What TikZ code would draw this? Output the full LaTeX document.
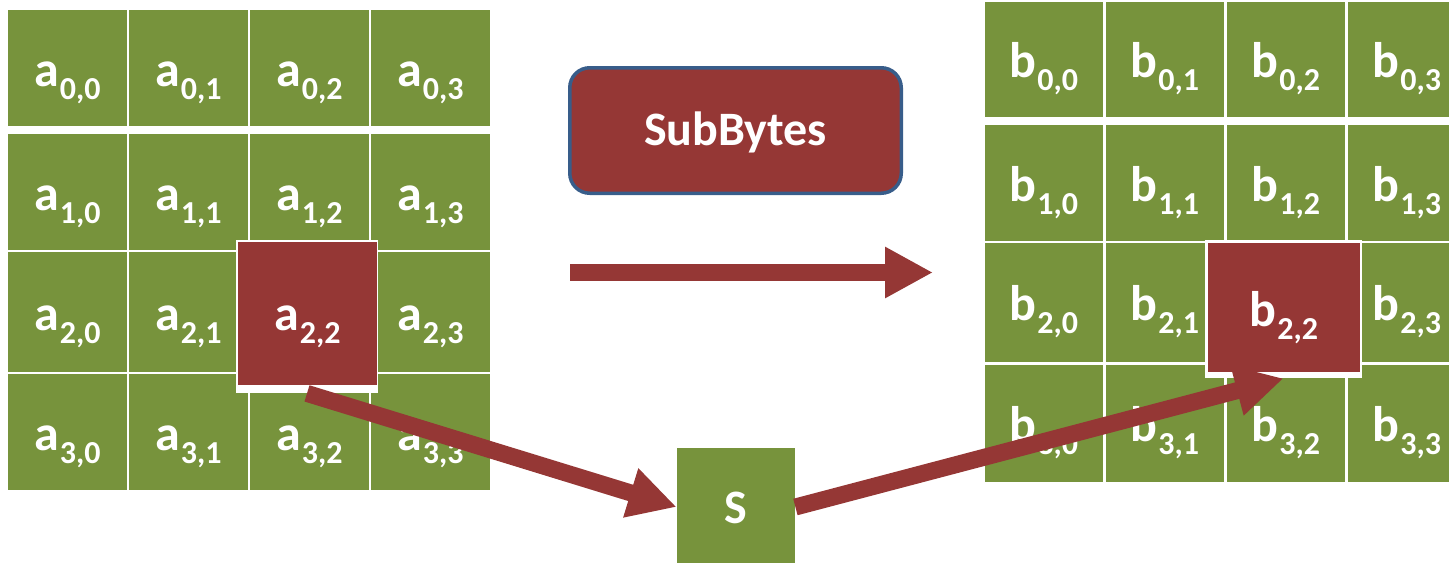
\documentclass[tikz,border=0pt]{standalone}
\usepackage{fontspec}
\setmainfont{Carlito}
\usetikzlibrary{arrows.meta}
\definecolor{cellgreen}{HTML}{77933C}
\definecolor{boxred}{HTML}{953735}
\definecolor{boxblue}{HTML}{385D8A}
\newcommand{\sublab}[3]{#1\kern0.3pt\raisebox{-6.5pt}{\fontsize{16}{16}\selectfont #2,#3}}
\begin{document}
\begin{tikzpicture}[x=0.5pt,y=-0.5pt,
  cell/.style={fill=cellgreen, draw=none, inner sep=0pt, text=white,
    font=\bfseries\fontsize{25}{25}\selectfont, text height=18pt, text depth=0pt},
  hl/.style={fill=boxred, draw=none, inner sep=0pt, text=white,
    font=\bfseries\fontsize{25}{25}\selectfont, text depth=0pt},
  framebox/.style={fill=white, draw=none, inner sep=0pt},
  bigarrow/.style={draw=boxred, line width=8.5pt, -{Triangle[length=24pt,width=24pt]}}
]
\useasboundingbox (0,0) rectangle (1449,562);
\clip (0,0) rectangle (1449,562);
% left grid
\foreach \r/\y/\h in {0/68/58pt,1/192/58pt,2/312/60pt,3/432/58pt}{
  \foreach \c in {0,...,3}{
    \node[cell, minimum width=59.5pt, minimum height=\h] (a\r\c) at ({67.5+121*\c},\y)
      {\ifnum\r\c=22 \else\sublab{a}{\r}{\c}\fi};
  }}
% right grid
\foreach \r/\y/\h in {0/59.5/57.5pt,1/183/58pt,2/302.5/59.5pt,3/423.5/58.5pt}{
  \foreach \c in {0,...,3}{
    \node[cell, minimum width=59pt, minimum height=\h] (b\r\c) at ({1044+121*\c},\y)
      {\ifnum\r\c=22 \else\sublab{b}{\r}{\c}\fi};
  }}
% highlighted cells
\node[framebox, minimum width=71pt, minimum height=76.5pt] (haf) at (307,316.5) {};
\node[hl, minimum width=69.5pt, minimum height=71.5pt, text height=16.5pt] (ha) at (307.5,313.5) {\sublab{a}{2}{2}};
\node[framebox, minimum width=78.5pt, minimum height=69pt] (hbf) at (1283.5,309) {};
\node[hl, minimum width=76pt, minimum height=64.5pt, text height=19pt] (hb) at (1284,307.5) {\sublab{b}{2}{2}};
% SubBytes box
\node[fill=boxred, draw=boxblue, line width=1.75pt, rounded corners=10pt,
  minimum width=165.75pt, minimum height=62.75pt, inner sep=0pt, text=white,
  font=\bfseries\fontsize{24}{24}\selectfont, text height=14.5pt, text depth=0pt]
  (sb) at (735.5,130.5) {SubBytes};
% S box
\node[cell, minimum width=59pt, minimum height=59pt, text height=16pt,
  font=\bfseries\fontsize{24}{24}\selectfont] (S) at (736,507) {S};
% arrows
\coordinate (m1) at (570,272.5);
\coordinate (m2) at (933,272.5);
\draw[bigarrow] (m1) -- (m2);
\draw[bigarrow] (haf.south) -- (S.west);
\draw[bigarrow] (S.east) -- (hbf.south);
\end{tikzpicture}
\end{document}
